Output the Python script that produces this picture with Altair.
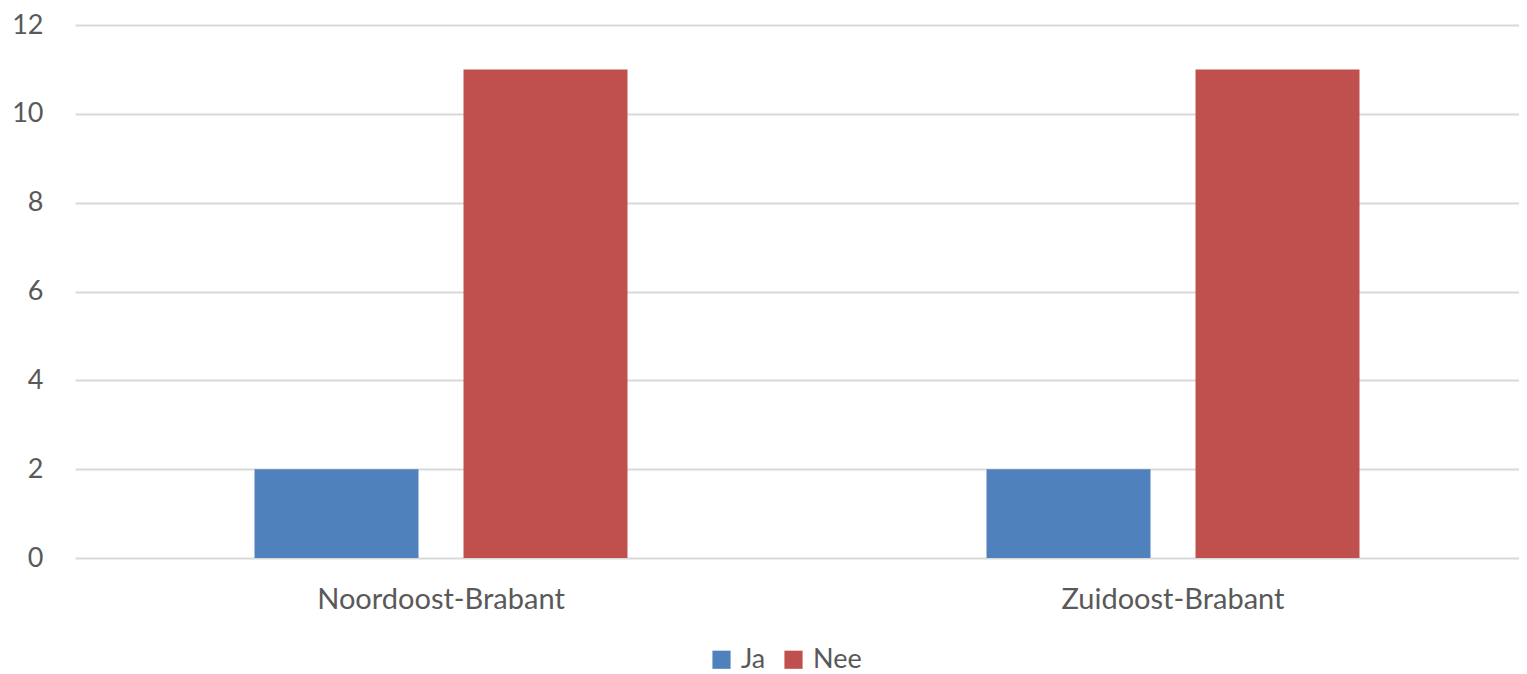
import altair as alt
import pandas as pd

regions = ["Noordoost-Brabant", "Noordoost-Brabant", "Zuidoost-Brabant", "Zuidoost-Brabant"]
answers = ["Ja", "Nee", "Ja", "Nee"]
counts = [2, 11, 2, 11]
y_ticks = [0, 2, 4, 6, 8, 10, 12]

df = pd.DataFrame({"regio": regions, "antwoord": answers, "aantal": counts})

FONT = "Lato"
TXT = "#595959"
FS = 27

chart = alt.Chart(df).mark_bar().encode(
    x=alt.X("regio:N", sort=["Noordoost-Brabant", "Zuidoost-Brabant"],
            scale=alt.Scale(paddingInner=0, paddingOuter=0, range=[0, 1464]),
            axis=alt.Axis(title=None, labelAngle=0, ticks=False, domain=False,
                          labelPadding=27, labelFontSize=29, labelColor=TXT,
                          labelFont=FONT, grid=False, labelLimit=0)),
    xOffset=alt.XOffset("antwoord:N", sort=["Ja", "Nee"],
                        scale=alt.Scale(paddingInner=0.2153, paddingOuter=0.8588)),
    y=alt.Y("aantal:Q", scale=alt.Scale(domain=[0, 12], nice=False),
            axis=alt.Axis(title=None, values=y_ticks, ticks=False, domain=False,
                          labelPadding=32, labelFontSize=FS, labelColor=TXT,
                          labelFont=FONT, gridColor="#D9D9D9", gridWidth=2)),
    color=alt.Color("antwoord:N", sort=["Ja", "Nee"],
                    scale=alt.Scale(domain=["Ja", "Nee"], range=["#4F81BD", "#C0504D"]),
                    legend=alt.Legend(title=None, orient="none", direction="horizontal",
                                      legendX=633, legendY=621, symbolType="square",
                                      symbolSize=330, symbolStrokeWidth=0,
                                      labelFontSize=FS, labelColor=TXT, labelFont=FONT,
                                      columnPadding=14, labelOffset=6, labelLimit=0)),
).properties(
    width=1444, height=533,
    autosize=alt.AutoSizeParams(type="none"),
    padding={"left": 67, "top": 17, "right": 0, "bottom": 116},
).configure_view(stroke=None)

chart.save("out.html", embed_options={"renderer": "svg", "actions": False})
